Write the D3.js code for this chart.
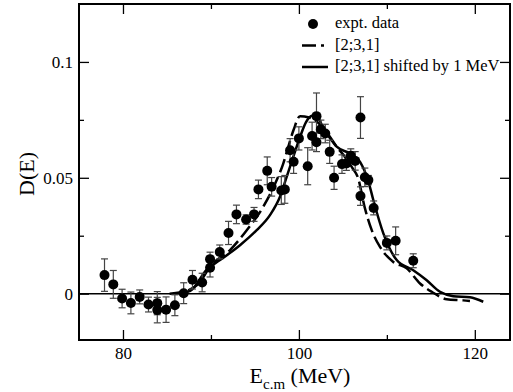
<!DOCTYPE html>
<html><head><meta charset="utf-8">
<script src="https://cdn.jsdelivr.net/npm/d3@7"></script>
<style>body{margin:0;background:#fff}svg{display:block}</style>
</head><body><svg id="c" width="513" height="392"></svg>
<script>
// ---- data ----
const exptE = [77.9,78.9,79.9,80.9,81.9,82.9,83.9,83.9,84.9,85.9,86.9,87.9,89.0,89.9,89.9,91.0,92.0,92.9,94.0,94.9,95.4,96.4,96.9,98.0,98.4,99.0,99.4,100.0,101.0,101.5,102.0,102.0,102.5,103.0,103.5,104.0,104.9,105.4,105.9,106.4,107.0,107.0,107.5,107.9,108.5,110.0,111.0,113.0];
const exptD = [0.0080,0.0040,-0.0021,-0.0040,-0.0014,-0.0047,-0.0041,-0.0071,-0.0069,-0.0050,0.0002,0.0060,0.0048,0.0112,0.0149,0.0180,0.0262,0.0342,0.0320,0.0342,0.0450,0.0530,0.0461,0.0445,0.0450,0.0619,0.0569,0.0670,0.0550,0.0680,0.0766,0.0653,0.0709,0.0691,0.0612,0.0500,0.0559,0.0562,0.0595,0.0573,0.0760,0.0421,0.0502,0.0490,0.0370,0.0219,0.0228,0.0142];
const exptErr = [0.007,0.006,0.004,0.0047,0.003,0.0032,0.005,0.0055,0.0055,0.0045,0.0045,0.004,0.004,0.004,0.003,0.003,0.005,0.004,0.002,0.003,0.004,0.006,0.004,0.006,0.006,0.005,0.005,0.005,0.008,0.006,0.010,0.004,0.004,0.004,0.005,0.005,0.004,0.003,0.003,0.004,0.009,0.004,0.004,0.002,0.003,0.003,0.006,0.003];

const calcE = [85.3,87.05,88.76,89.89,92.17,94.07,95.95,97.48,98.23,98.65,99.39,100.13,101.15,101.94,102.97,104.30,105.24,106.04,106.72,107.51,108.28,109.22,110.73,112.26,113.77,115.10,116.80,118.69,119.45];
const calcD = [0,0.001,0.005,0.0116,0.0188,0.0274,0.0375,0.049,0.0562,0.0615,0.0706,0.0766,0.0760,0.0745,0.0706,0.0634,0.0590,0.0545,0.0500,0.0368,0.0274,0.0202,0.0137,0.0109,0.0044,0.0008,-0.0024,-0.0029,-0.0032];

const shiftE = [85.9,87.6,89.52,91.03,93.30,95.20,96.71,97.85,98.61,99.36,100.12,100.81,101.49,102.17,102.77,103.54,104.30,105.81,106.95,107.89,108.46,109.60,111.12,113.0,114.53,116.04,117.55,119.45,120.96];
const shiftD = [0,0.0011,0.0104,0.0145,0.0209,0.0274,0.0339,0.0418,0.0504,0.0590,0.0675,0.0740,0.0768,0.0760,0.0713,0.0671,0.0634,0.0605,0.0569,0.0486,0.0404,0.0260,0.0145,0.0101,0.0058,0.0008,-0.0011,-0.0016,-0.0035];

const xMajorTicks = [80,100,120];
const xMinorTicks = [90,110];
const yMajorTicks = [0,0.05,0.1];
const yMajorLabels = ["0","0.05","0.1"];
const yMinorTicks = [0.025,0.075];
const legendLabels = ["expt. data","[2;3,1]","[2;3,1] shifted by 1 MeV"];

// make sure the serif face is resolved before drawing
const FONT = '"Liberation Serif"';
const cv = document.createElement("canvas").getContext("2d");
[16.5,17,22,15].forEach(s=>{ cv.font = `${s}px ${FONT}`; cv.measureText("expt. data MeV 0.05"); document.fonts.check(`${s}px ${FONT}`); });

const svg = d3.select("#c");
const L=79, R=510, T=4, B=340;
const x = d3.scaleLinear().domain([75,124]).range([L,R]);
const y = d3.scaleLinear().domain([-0.02,0.125]).range([B,T]);

// zero line
svg.append("line").attr("x1",L).attr("x2",R).attr("y1",y(0)).attr("y2",y(0))
  .attr("stroke","#000").attr("stroke-width",1.5);

// axes (inward ticks)
function axis(gen, tr, vals, size, fmt){
  const g = svg.append("g").attr("transform",tr)
    .call(gen.tickValues(vals).tickSize(size).tickPadding(fmt?7:0).tickFormat(fmt||(()=> "")));
  g.attr("font-family", null).attr("font-size", null);
  g.select(".domain").remove();
  g.selectAll("line").attr("stroke","#000").attr("stroke-width",1.3);
  g.selectAll("text").style("font-family", FONT).style("font-size","17px").attr("fill","#000");
  return g;
}
axis(d3.axisBottom(x),`translate(0,${B})`,xMajorTicks,-10,d=>String(d));
axis(d3.axisBottom(x),`translate(0,${B})`,xMinorTicks,-5);
axis(d3.axisTop(x),`translate(0,${T})`,xMajorTicks,-10);
axis(d3.axisTop(x),`translate(0,${T})`,xMinorTicks,-5);
const gl = axis(d3.axisLeft(y),`translate(${L},0)`,yMajorTicks,-10,(d,i)=>yMajorLabels[i]);
gl.selectAll("text").attr("dx",1);
axis(d3.axisLeft(y),`translate(${L},0)`,yMinorTicks,-5);
axis(d3.axisRight(y),`translate(${R},0)`,yMajorTicks,-10);
axis(d3.axisRight(y),`translate(${R},0)`,yMinorTicks,-5);

// frame
svg.append("rect").attr("x",L).attr("y",T).attr("width",R-L).attr("height",B-T)
  .attr("fill","none").attr("stroke","#000").attr("stroke-width",2);

// curves
const line = d3.line().x(d=>x(d[0])).y(d=>y(d[1])).curve(d3.curveMonotoneX);
svg.append("path").datum(d3.zip(calcE,calcD)).attr("d",line)
  .attr("fill","none").attr("stroke","#000").attr("stroke-width",2.5).attr("stroke-dasharray","14,5");
svg.append("path").datum(d3.zip(shiftE,shiftD)).attr("d",line)
  .attr("fill","none").attr("stroke","#000").attr("stroke-width",2.5);

// error bars
const pts = exptE.map((e,i)=>({e, d:exptD[i], s:exptErr[i]}));
const eb = svg.append("g").attr("stroke","#444").attr("stroke-width",1.2);
pts.forEach(p=>{
  const cx=x(p.e), y1=y(p.d+p.s), y2=y(p.d-p.s);
  eb.append("line").attr("x1",cx).attr("x2",cx).attr("y1",y1).attr("y2",y2);
  eb.append("line").attr("x1",cx-3.5).attr("x2",cx+3.5).attr("y1",y1).attr("y2",y1);
  eb.append("line").attr("x1",cx-3.5).attr("x2",cx+3.5).attr("y1",y2).attr("y2",y2);
});
svg.append("g").selectAll("circle").data(pts).join("circle")
  .attr("cx",p=>x(p.e)).attr("cy",p=>y(p.d)).attr("r",5).attr("fill","#000");

// legend
const lg = svg.append("g");
lg.append("circle").attr("cx",313).attr("cy",24).attr("r",5).attr("fill","#000");
lg.append("line").attr("x1",302).attr("x2",324).attr("y1",45.5).attr("y2",45.5)
  .attr("stroke","#000").attr("stroke-width",2.5).attr("stroke-dasharray","14,5");
lg.append("line").attr("x1",302).attr("x2",328).attr("y1",67).attr("y2",67)
  .attr("stroke","#000").attr("stroke-width",2.5);
[28,49.5,71].forEach((by,i)=>lg.append("text").attr("x",335).attr("y",by)
  .style("font-family",FONT).style("font-size","16.5px").text(legendLabels[i]));

// axis titles
const xt = svg.append("text").attr("x",300).attr("y",383).attr("text-anchor","middle")
  .style("font-family",FONT).style("font-size","22px");
xt.append("tspan").text("E");
xt.append("tspan").style("font-size","15px").attr("dy",6).text("c.m");
xt.append("tspan").attr("dy",-6).text(" (MeV)");
svg.append("text").attr("transform","translate(34,174) rotate(-90)").attr("text-anchor","middle")
  .style("font-family",FONT).style("font-size","22px").text("D(E)");
</script></body></html>
